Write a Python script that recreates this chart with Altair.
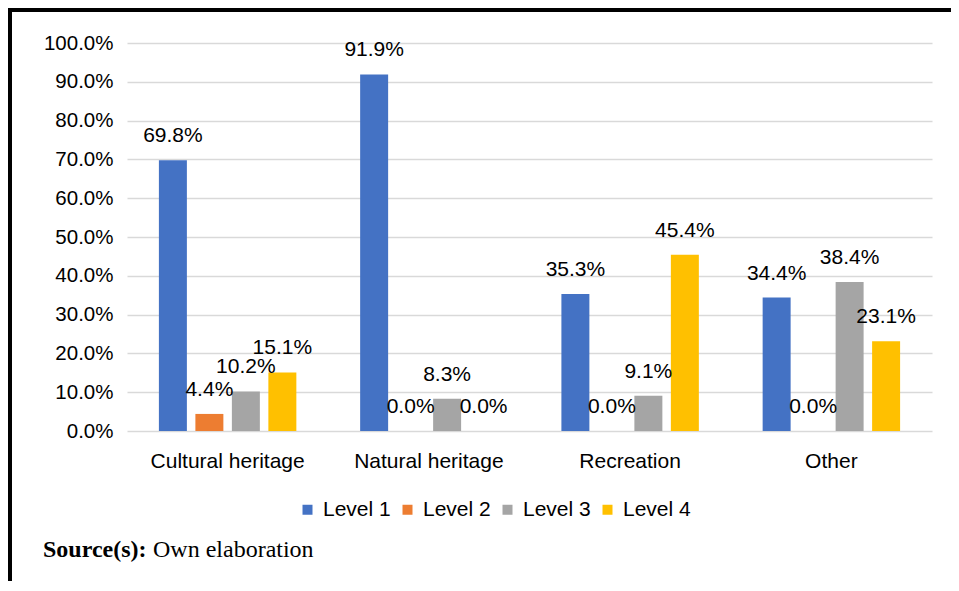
import altair as alt
import pandas as pd

categories = ["Cultural heritage", "Natural heritage", "Recreation", "Other"]
levels = ["Level 1", "Level 2", "Level 3", "Level 4"]
level1 = [69.8, 91.9, 35.3, 34.4]
level2 = [4.4, 0.0, 0.0, 0.0]
level3 = [10.2, 8.3, 9.1, 38.4]
level4 = [15.1, 0.0, 45.4, 23.1]
colors = ["#4472C4", "#ED7D31", "#A5A5A5", "#FFC000"]
y_ticks = [0.0, 0.1, 0.2, 0.3, 0.4, 0.5, 0.6, 0.7, 0.8, 0.9, 1.0]
source_bold = "Source(s):"
source_rest = "Own elaboration"

rows = []
for lvl, vals in zip(levels, [level1, level2, level3, level4]):
    for cat, v in zip(categories, vals):
        rows.append({"category": cat, "level": lvl, "value": v / 100.0})
df = pd.DataFrame(rows)

FONT = "Liberation Sans"

x_enc = alt.X(
    "category:N",
    sort=categories,
    scale=alt.Scale(paddingInner=0.317, paddingOuter=0.1585),
    axis=alt.Axis(
        title=None, labelAngle=0, labelFontSize=21, labelFont=FONT,
        labelColor="#000000", ticks=False, domain=False, labelPadding=19,
    ),
)
xoff_enc = alt.XOffset(
    "level:N", sort=levels, scale=alt.Scale(paddingInner=0.233, paddingOuter=0)
)
y_enc = alt.Y(
    "value:Q",
    scale=alt.Scale(domain=[0, 1]),
    axis=alt.Axis(
        title=None, values=y_ticks, tickCount=11, format=".1%",
        labelFontSize=20.5, labelFont=FONT, labelColor="#000000",
        ticks=False, domain=False, labelPadding=14, gridColor="#D9D9D9",
        gridWidth=1.5, labelOverlap=False,
    ),
)

base = alt.Chart(df)

bars = base.mark_bar().encode(
    x=x_enc,
    xOffset=xoff_enc,
    y=y_enc,
    color=alt.Color(
        "level:N",
        sort=levels,
        scale=alt.Scale(domain=levels, range=colors),
        legend=alt.Legend(
            title=None, orient="none", direction="horizontal", columns=4,
            legendX=170, legendY=456, symbolType="square", symbolSize=100,
            symbolStrokeWidth=0, labelFontSize=21, labelFont=FONT,
            labelColor="#000000", columnPadding=6, labelOffset=5, padding=0,
        ),
    ),
)

labels = base.mark_text(
    fontSize=21, font=FONT, color="#000000", baseline="middle", dy=-24
).encode(
    x=x_enc,
    xOffset=xoff_enc,
    y=y_enc,
    text=alt.Text("value:Q", format=".1%"),
)

one = pd.DataFrame({"a": [0]})

left_border = alt.Chart(one).mark_rule(color="#000000", strokeWidth=4).encode(
    x=alt.value(-117), y=alt.value(-35), y2=alt.value(570)
)
top_border = alt.Chart(one).mark_rule(color="#000000", strokeWidth=4).encode(
    x=alt.value(-119), x2=alt.value(830), y=alt.value(-33)
)

src_b = alt.Chart(one).mark_text(
    text=source_bold, font="Liberation Serif", fontSize=24, fontWeight="bold",
    align="left", baseline="alphabetic", color="#000000",
).encode(x=alt.value(-84), y=alt.value(514))
src_r = alt.Chart(one).mark_text(
    text=source_rest, font="Liberation Serif", fontSize=24,
    align="left", baseline="alphabetic", color="#000000",
).encode(x=alt.value(26), y=alt.value(514))

chart = alt.layer(bars, labels, left_border, top_border, src_b, src_r).properties(
    width=805,
    height=388,
    autosize=alt.AutoSizeParams(type="none"),
    padding={"left": 119, "top": 35, "right": 19, "bottom": 150},
).configure_view(stroke=None)

chart.save("out.html", embed_options={"renderer": "svg", "actions": False})
